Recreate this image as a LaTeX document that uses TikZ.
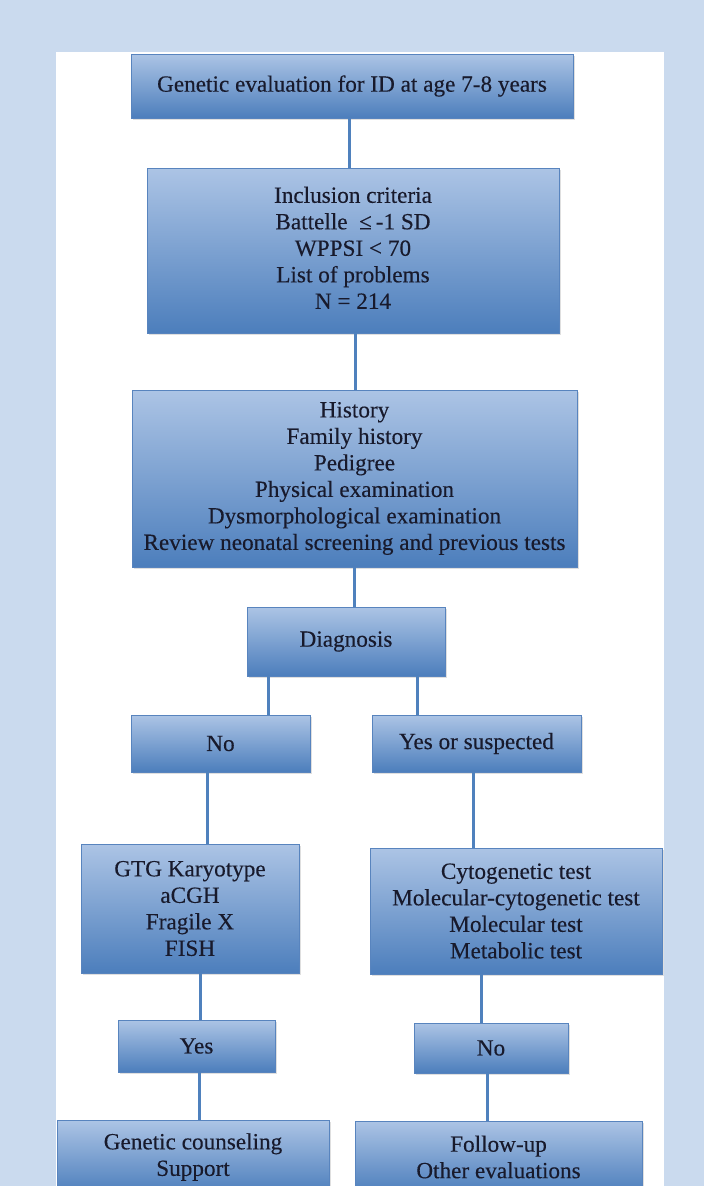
\documentclass[tikz,border=0pt]{standalone}
\usepackage{fontspec}
\setmainfont{Liberation Serif}
\usetikzlibrary{shadows}
\definecolor{bgblue}{RGB}{202,218,238}
\definecolor{boxtop}{RGB}{172,196,229}
\definecolor{boxmid}{RGB}{138,170,214}
\definecolor{boxbot}{RGB}{76,126,188}
\definecolor{boxline}{RGB}{88,132,190}
\definecolor{linkblue}{RGB}{79,129,189}
\definecolor{txt}{RGB}{24,26,44}
\tikzset{
  flowbox/.style={rectangle, draw=boxline, line width=0.8pt,
    top color=boxtop, middle color=boxmid, bottom color=boxbot,
    inner sep=0pt, align=center, text=txt,
    font=\addfontfeature{FakeBold=0.25}\fontsize{23.2}{26.5}\selectfont,
    drop shadow={shadow xshift=1.5pt, shadow yshift=-1.5pt, opacity=0.25}},
  link/.style={draw=linkblue, line width=3pt}
}
\begin{document}
\begin{tikzpicture}[x=1pt,y=-1pt]
\useasboundingbox (0,0) rectangle (704,1186);
\fill[bgblue] (0,0) rectangle (704,1186);
\fill[white] (56,52) rectangle (664,1186);

\node[flowbox, minimum width=442pt, minimum height=64pt] (b1) at (352,86)
  {Genetic evaluation for ID at age 7-8 years};
\node[flowbox, minimum width=412pt, minimum height=165pt] (b2) at (353,250.5)
  {\raisebox{7pt}{\begin{tabular}{@{}c@{}}Inclusion criteria\\ Battelle\ \ ≤\,-1 SD\\ WPPSI < 70\\ List of problems\\ N = 214\end{tabular}}};
\node[flowbox, minimum width=445pt, minimum height=177pt] (b3) at (354.5,478.5)
  {History\\ Family history\\ Pedigree\\ Physical examination\\ Dysmorphological examination\\ Review neonatal screening and previous tests};
\node[flowbox, minimum width=198pt, minimum height=69pt] (diag) at (346,641.5)
  {Diagnosis};
\node[flowbox, minimum width=179pt, minimum height=57pt] (no1) at (220.5,743.5)
  {No};
\node[flowbox, minimum width=209pt, minimum height=57pt] (yos) at (476.5,743.5)
  {Yes or suspected};
\node[flowbox, minimum width=218pt, minimum height=129pt] (gtg) at (190,908.5)
  {GTG Karyotype\\ aCGH\\ Fragile X\\ FISH};
\node[flowbox, minimum width=292pt, minimum height=126pt] (cyto) at (516,911)
  {Cytogenetic test\\ Molecular-cytogenetic test\\ Molecular test\\ Metabolic test};
\node[flowbox, minimum width=157pt, minimum height=52pt] (yes) at (196.5,1046)
  {Yes};
\node[flowbox, minimum width=154pt, minimum height=50pt] (no2) at (491,1048)
  {No};
\node[flowbox, minimum width=272pt, minimum height=73pt] (gc) at (193,1157)
  {Genetic counseling\\ Support};
\node[flowbox, minimum width=287pt, minimum height=72pt] (fu) at (498.5,1157)
  {Follow-up\\ Other evaluations};

\draw[link] ([xshift=-3pt]b1.south) -- ([xshift=-3pt]b1.south |- b2.north);
\draw[link] ([xshift=2pt]b2.south) -- ([xshift=2pt]b2.south |- b3.north);
\draw[link] (b3.south) -- (b3.south |- diag.north);
\draw[link] ([xshift=-78pt]diag.south) -- ([xshift=-78pt]diag.south |- no1.north);
\draw[link] ([xshift=71pt]diag.south) -- ([xshift=71pt]diag.south |- yos.north);
\draw[link] ([xshift=-13.5pt]no1.south) -- ([xshift=-13.5pt]no1.south |- gtg.north);
\draw[link] ([xshift=-3.5pt]yos.south) -- ([xshift=-3.5pt]yos.south |- cyto.north);
\draw[link] ([xshift=10pt]gtg.south) -- ([xshift=10pt]gtg.south |- yes.north);
\draw[link] ([xshift=-35pt]cyto.south) -- ([xshift=-35pt]cyto.south |- no2.north);
\draw[link] ([xshift=2.5pt]yes.south) -- ([xshift=2.5pt]yes.south |- gc.north);
\draw[link] ([xshift=-4pt]no2.south) -- ([xshift=-4pt]no2.south |- fu.north);
\end{tikzpicture}
\end{document}
